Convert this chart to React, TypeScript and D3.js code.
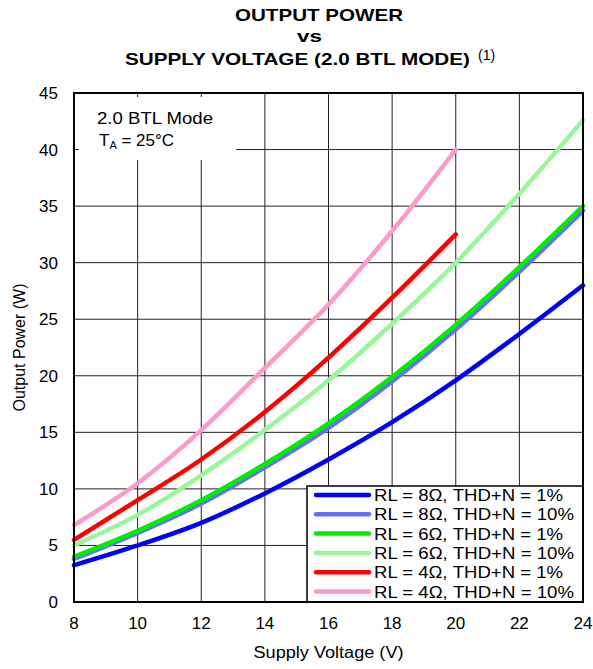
import React from "react";
import * as d3 from "d3";

// supply voltage (V) at which the curves were read
const volts = [8, 10, 12, 14, 16, 18, 20, 22, 24];
const volts20 = [8, 10, 12, 14, 16, 18, 20];

// output power (W)
const rl8thd1 = [3.25, 5.0, 7.0, 9.6, 12.6, 15.9, 19.6, 23.7, 28.0];
const rl8thd10 = [3.8, 6.1, 8.7, 11.9, 15.4, 19.5, 24.1, 29.2, 34.6];
const rl6thd1 = [4.0, 6.3, 9.0, 12.2, 15.8, 19.9, 24.5, 29.6, 35.0];
const rl6thd10 = [5.0, 7.7, 11.2, 15.2, 19.6, 24.6, 30.0, 36.1, 42.6];
const rl4thd1 = [5.5, 9.0, 12.6, 16.8, 21.6, 26.9, 32.5];
const rl4thd10 = [6.8, 10.5, 15.2, 20.7, 26.3, 32.8, 40.0];

const xTicks = [8, 10, 12, 14, 16, 18, 20, 22, 24];
const yTicks = [0, 5, 10, 15, 20, 25, 30, 35, 40, 45];

const seriesNames = [
  "RL = 8Ω, THD+N = 1%",
  "RL = 8Ω, THD+N = 10%",
  "RL = 6Ω, THD+N = 1%",
  "RL = 6Ω, THD+N = 10%",
  "RL = 4Ω, THD+N = 1%",
  "RL = 4Ω, THD+N = 10%",
];

const FONT = "'Liberation Sans', Arial, Helvetica, sans-serif";

const App: React.FC = () => {
  const width = 593;
  const height = 669;
  const left = 74, right = 583, top = 93, bottom = 602;

  const x = d3.scaleLinear().domain([8, 24]).range([left, right]);
  const y = d3.scaleLinear().domain([0, 45]).range([bottom, top]);

  const series = [
    { name: seriesNames[1], v: volts, p: rl8thd10, color: "#6b6bff" },
    { name: seriesNames[0], v: volts, p: rl8thd1, color: "#0000ff" },
    { name: seriesNames[2], v: volts, p: rl6thd1, color: "#00ee00" },
    { name: seriesNames[3], v: volts, p: rl6thd10, color: "#99f799" },
    { name: seriesNames[4], v: volts20, p: rl4thd1, color: "#ff0000" },
    { name: seriesNames[5], v: volts20, p: rl4thd10, color: "#ff99cc" },
  ];
  const legendOrder = [1, 0, 2, 3, 4, 5];

  const line = d3
    .line<[number, number]>()
    .x((d) => x(d[0]))
    .y((d) => y(d[1]))
    .curve(d3.curveMonotoneX);

  // legend box
  const lg = { x0: 307, y0: 486, x1: right, y1: bottom, row: 19.3 };

  return (
    <div style={{ position: "absolute", left: 0, top: 0 }}>
      <svg width={width} height={height} style={{ display: "block", background: "#fff" }}>
        {/* title */}
        <g fontFamily={FONT} fontWeight="bold" fill="#000">
          <text x={235} y={21} fontSize={17} textLength={168} lengthAdjust="spacingAndGlyphs">OUTPUT POWER</text>
          <text x={297} y={42} fontSize={17} textLength={25} lengthAdjust="spacingAndGlyphs">vs</text>
          <text x={125} y={65} fontSize={17} textLength={345} lengthAdjust="spacingAndGlyphs">SUPPLY VOLTAGE (2.0 BTL MODE)</text>
        </g>
        <text x={478} y={60} fontFamily={FONT} fontSize={14}>(1)</text>

        {/* grid */}
        <g stroke="#222" strokeWidth={1}>
          {xTicks.slice(1, -1).map((t) => (
            <line key={"gx" + t} x1={x(t)} x2={x(t)} y1={top} y2={bottom} />
          ))}
          {yTicks.slice(1, -1).map((t) => (
            <line key={"gy" + t} x1={left} x2={right} y1={y(t)} y2={y(t)} />
          ))}
        </g>

        {/* annotation box */}
        <rect x={left + 5} y={top + 4} width={236 - left - 5} height={160 - top - 4} fill="#fff" />
        <g fontFamily={FONT} fontSize={17} fill="#000">
          <text x={97} y={124} textLength={116} lengthAdjust="spacingAndGlyphs">2.0 BTL Mode</text>
          <text x={99} y={146}>
            T<tspan fontSize={11} dy={3}>A</tspan>
            <tspan dy={-3}> = 25°C</tspan>
          </text>
        </g>

        {/* curves */}
        <g fill="none" strokeWidth={4.5} strokeLinecap="round">
          {series.map((s) => (
            <path
              key={s.name}
              d={line(s.v.map((v, i) => [v, s.p[i]] as [number, number])) || ""}
              stroke={s.color}
            />
          ))}
        </g>

        {/* legend */}
        <rect x={lg.x0} y={lg.y0} width={lg.x1 - lg.x0} height={lg.y1 - lg.y0} fill="#fff" stroke="#000" strokeWidth={1.5} />
        {legendOrder.map((si, i) => {
          const s = series[si];
          const cy = 495 + i * lg.row;
          return (
            <g key={"lg" + i}>
              <line x1={316} x2={369} y1={cy} y2={cy} stroke={s.color} strokeWidth={4.5} strokeLinecap="round" />
              <text
                x={374}
                y={cy + 6}
                fontFamily={FONT}
                fontSize={17}
                textLength={s.name.endsWith("10%") ? 200 : 189}
                lengthAdjust="spacingAndGlyphs"
              >
                {s.name}
              </text>
            </g>
          );
        })}

        {/* frame */}
        <rect x={left} y={top} width={right - left} height={bottom - top} fill="none" stroke="#000" strokeWidth={2} />

        {/* tick labels */}
        <g fontFamily={FONT} fontSize={17} fill="#000">
          {yTicks.map((t) => (
            <text key={"ty" + t} x={58} y={y(t) + 6} textAnchor="end">{t}</text>
          ))}
          {xTicks.map((t) => (
            <text key={"tx" + t} x={x(t)} y={629} textAnchor="middle">{t}</text>
          ))}
        </g>

        {/* axis titles */}
        <text
          x={(left + right) / 2}
          y={658}
          textAnchor="middle"
          fontFamily={FONT}
          fontSize={16}
          textLength={150}
          lengthAdjust="spacingAndGlyphs"
        >
          Supply Voltage (V)
        </text>
        <text
          transform={`translate(25, ${(top + bottom) / 2}) rotate(-90)`}
          textAnchor="middle"
          fontFamily={FONT}
          fontSize={16}
        >
          Output Power (W)
        </text>
      </svg>
    </div>
  );
};

export default App;
